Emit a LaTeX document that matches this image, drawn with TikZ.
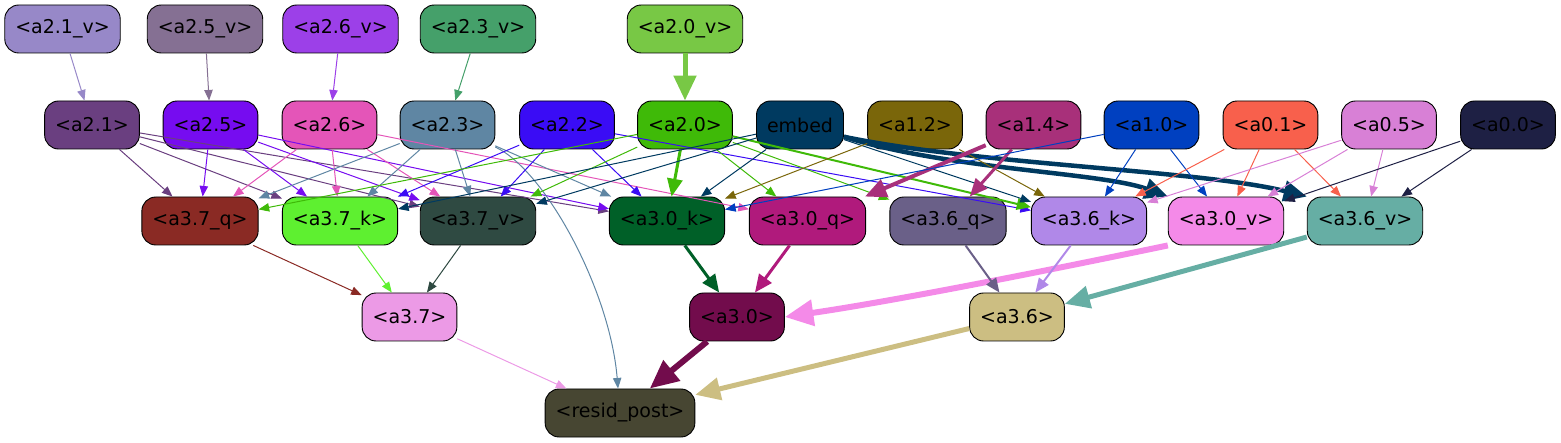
\documentclass[tikz,border=0pt]{standalone}
\usepackage{fontspec}
\setmainfont{DejaVu Sans}
\usetikzlibrary{arrows.meta}

% node colours
\definecolor{ca21v}{HTML}{9788C8}
\definecolor{ca25v}{HTML}{857093}
\definecolor{ca26v}{HTML}{9C40E8}
\definecolor{ca23v}{HTML}{45A06A}
\definecolor{ca20v}{HTML}{78C845}
\definecolor{ca21}{HTML}{6A3F80}
\definecolor{ca25}{HTML}{760CF0}
\definecolor{ca26}{HTML}{E455B8}
\definecolor{ca23}{HTML}{5F86A3}
\definecolor{ca22}{HTML}{3A0CF5}
\definecolor{ca20}{HTML}{3FBA08}
\definecolor{cembed}{HTML}{003A60}
\definecolor{ca12}{HTML}{7A660A}
\definecolor{ca14}{HTML}{A8307A}
\definecolor{ca10}{HTML}{0040C0}
\definecolor{ca01}{HTML}{F8604C}
\definecolor{ca05}{HTML}{D880D6}
\definecolor{ca00}{HTML}{1E2044}
\definecolor{ca37q}{HTML}{8A2A24}
\definecolor{ca37k}{HTML}{5EF030}
\definecolor{ca37v}{HTML}{2F4A42}
\definecolor{ca30k}{HTML}{006028}
\definecolor{ca30q}{HTML}{B01A7C}
\definecolor{ca36q}{HTML}{6A6088}
\definecolor{ca36k}{HTML}{B088E8}
\definecolor{ca30v}{HTML}{F48AE8}
\definecolor{ca36v}{HTML}{66AEA4}
\definecolor{ca37}{HTML}{EC9AE6}
\definecolor{ca30}{HTML}{720C4C}
\definecolor{ca36}{HTML}{CCBE82}
\definecolor{cresid}{HTML}{474632}

\begin{document}
\begin{tikzpicture}[
    x=1pt, y=-1pt,
    box/.style={rectangle, rounded corners=14pt, draw=black, line width=0.9pt, fill=#1, minimum height=48pt, inner xsep=10.5pt, font=\fontsize{19}{22}\selectfont},
    wire/.style={draw=#1, line width=1pt, -{Triangle[length=7pt 3.6, width=5pt 3.4]}}
]
\useasboundingbox (0,0) rectangle (1561,443);

% top row
\node (a21v) at (62.5,29) [box=ca21v] {<a2.1\_v>};
\node (a25v) at (205,29) [box=ca25v] {<a2.5\_v>};
\node (a26v) at (340.5,29) [box=ca26v] {<a2.6\_v>};
\node (a23v) at (478,29) [box=ca23v] {<a2.3\_v>};
\node (a20v) at (685,29) [box=ca20v] {<a2.0\_v>};

% second row
\node (a21) at (92,125) [box=ca21] {<a2.1>};
\node (a25) at (210.5,125) [box=ca25] {<a2.5>};
\node (a26) at (329.5,125) [box=ca26] {<a2.6>};
\node (a23) at (447.5,125) [box=ca23] {<a2.3>};
\node (a22) at (567,125) [box=ca22] {<a2.2>};
\node (a20) at (685,125) [box=ca20] {<a2.0>};
\node (embed) at (800,125) [box=cembed] {embed};
\node (a12) at (915,125) [box=ca12] {<a1.2>};
\node (a14) at (1033.5,125) [box=ca14] {<a1.4>};
\node (a10) at (1151.5,125) [box=ca10] {<a1.0>};
\node (a01) at (1270.5,125) [box=ca01] {<a0.1>};
\node (a05) at (1389,125) [box=ca05] {<a0.5>};
\node (a00) at (1508,125) [box=ca00] {<a0.0>};

% third row
\node (a37q) at (200,221) [box=ca37q] {<a3.7\_q>};
\node (a37k) at (340,221) [box=ca37k] {<a3.7\_k>};
\node (a37v) at (478,221) [box=ca37v] {<a3.7\_v>};
\node (a30k) at (667,221) [box=ca30k] {<a3.0\_k>};
\node (a30q) at (807.5,221) [box=ca30q] {<a3.0\_q>};
\node (a36q) at (948,221) [box=ca36q] {<a3.6\_q>};
\node (a36k) at (1089,221) [box=ca36k] {<a3.6\_k>};
\node (a30v) at (1226,221) [box=ca30v] {<a3.0\_v>};
\node (a36v) at (1365,221) [box=ca36v] {<a3.6\_v>};

% fourth row
\node (a37) at (409.5,317) [box=ca37] {<a3.7>};
\node (a30) at (737,317) [box=ca30] {<a3.0>};
\node (a36) at (1017,317) [box=ca36] {<a3.6>};

% output
\node (resid) at (620,413) [box=cresid] {<resid\_post>};

% value inputs
\draw [wire=ca21v] (a21v) -- (a21);
\draw [wire=ca25v] (a25v) -- (a25);
\draw [wire=ca26v] (a26v) -- (a26);
\draw [wire=ca23v] (a23v) -- (a23);
\draw [wire=ca20v, line width=5pt] (a20v) -- (a20);

% layer 2 heads
\draw [wire=ca21] (a21) -- (a37q);
\draw [wire=ca21] (a21) -- (a37k);
\draw [wire=ca21] (a21) -- (a37v);
\draw [wire=ca21] (a21) -- (a30k);
\draw [wire=ca25] (a25) -- (a37q);
\draw [wire=ca25] (a25) -- (a37k);
\draw [wire=ca25] (a25) -- (a37v);
\draw [wire=ca25] (a25) -- (a30k);
\draw [wire=ca26] (a26) -- (a37q);
\draw [wire=ca26] (a26) -- (a37k);
\draw [wire=ca26] (a26) -- (a37v);
\draw [wire=ca26] (a26) -- (a30q);
\draw [wire=ca23] (a23) -- (a37q);
\draw [wire=ca23] (a23) -- (a37k);
\draw [wire=ca23] (a23) -- (a37v);
\draw [wire=ca23] (a23) -- (a30k);
\draw [wire=ca23] (a23) .. controls (545,170) and (610,290) .. (resid);
\draw [wire=ca22] (a22) -- (a37k);
\draw [wire=ca22] (a22) -- (a37v);
\draw [wire=ca22] (a22) -- (a30k);
\draw [wire=ca22] (a22) -- (a36k);
\draw [wire=ca20] (a20) -- (a37q);
\draw [wire=ca20] (a20) -- (a37v);
\draw [wire=ca20, line width=3pt] (a20) -- (a30k);
\draw [wire=ca20] (a20) -- (a30q);
\draw [wire=ca20] (a20) -- (a36q);
\draw [wire=ca20, line width=2pt] (a20) -- (a36k);

% embedding and layer 0/1 heads
\draw [wire=cembed] (embed) -- (a37k);
\draw [wire=cembed] (embed) -- (a37v);
\draw [wire=cembed] (embed) -- (a30k);
\draw [wire=cembed] (embed) -- (a36k);
\draw [wire=cembed, line width=4.5pt] (embed.-15) .. controls (950,170) and (1100,172) .. (a30v.north west);
\draw [wire=cembed, line width=4.5pt] (embed.-15) .. controls (980,165) and (1200,170) .. (a36v.north west);
\draw [wire=ca12] (a12) -- (a30k);
\draw [wire=ca12] (a12) -- (a36k);
\draw [wire=ca14, line width=4pt] (a14) -- (a30q);
\draw [wire=ca14, line width=3pt] (a14) -- (a36q);
\draw [wire=ca10] (a10) -- (a30k);
\draw [wire=ca10] (a10) -- (a36k);
\draw [wire=ca10] (a10) -- (a30v);
\draw [wire=ca01] (a01) -- (a36k);
\draw [wire=ca01] (a01) -- (a30v);
\draw [wire=ca01] (a01) -- (a36v);
\draw [wire=ca05] (a05) -- (a36k);
\draw [wire=ca05] (a05) -- (a30v);
\draw [wire=ca05] (a05) -- (a36v);
\draw [wire=ca00] (a00) -- (a30v);
\draw [wire=ca00] (a00) -- (a36v);

% layer 3
\draw [wire=ca37q] (a37q) -- (a37);
\draw [wire=ca37k] (a37k) -- (a37);
\draw [wire=ca37v] (a37v) -- (a37);
\draw [wire=ca30k, line width=3pt] (a30k) -- (a30);
\draw [wire=ca30q, line width=3pt] (a30q) -- (a30);
\draw [wire=ca30v, line width=6pt] (a30v.south west) .. controls (1050,270) and (900,300) .. (a30.east);
\draw [wire=ca36q, line width=2pt] (a36q) -- (a36);
\draw [wire=ca36k, line width=2pt] (a36k) -- (a36);
\draw [wire=ca36v, line width=5pt] (a36v) -- (a36);

% output
\draw [wire=ca37] (a37) -- (resid);
\draw [wire=ca30, line width=6pt] (a30) -- (resid);
\draw [wire=ca36, line width=5pt] (a36) -- (resid);

\end{tikzpicture}
\end{document}
